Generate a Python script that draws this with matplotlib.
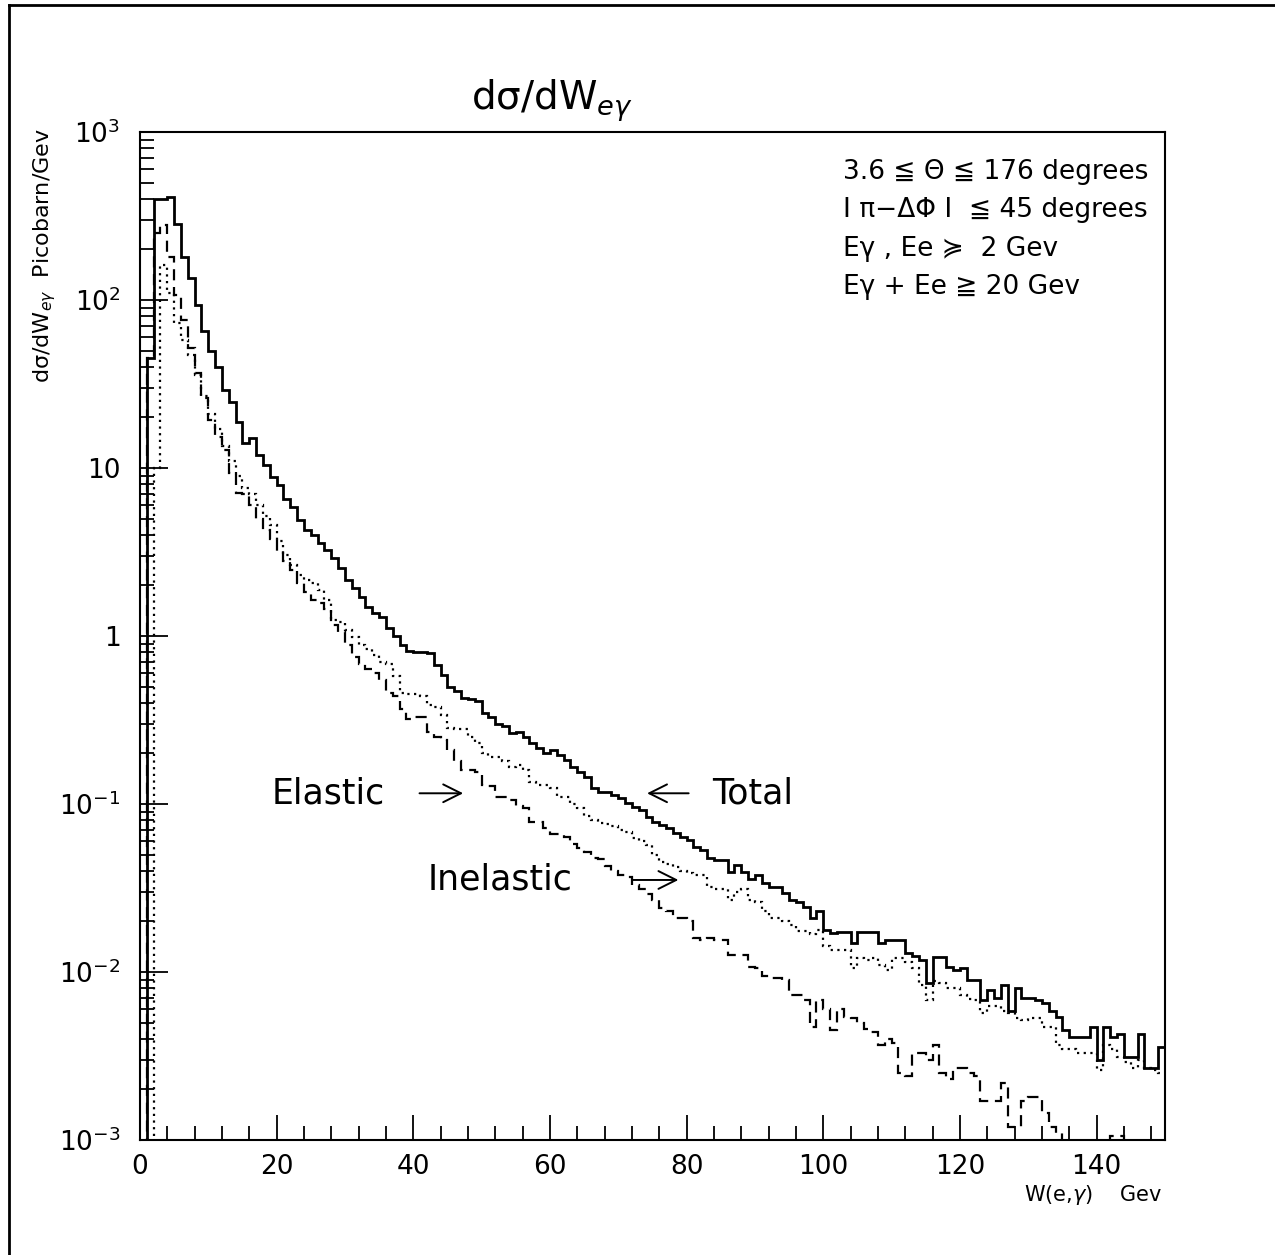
import numpy as np
import matplotlib
matplotlib.use("Agg")
from matplotlib import pyplot as plt
from matplotlib.lines import Line2D
from matplotlib.ticker import FixedLocator, FixedFormatter, MultipleLocator, LogLocator, NullFormatter

plt.rcParams['font.family'] = ['DejaVu Sans']
plt.rcParams['mathtext.fontset'] = 'dejavusans'

# 1 GeV bins from 0 to 150 GeV
bin_edges = np.arange(0, 151, 1)

# Total (solid line), picobarn/GeV per bin
total = [
    0, 45, 400, 400, 410, 285, 180, 135, 93, 65,
    50, 40, 29, 24.7, 18.8, 14.1, 15.1, 11.9, 10.4, 8.8,
    7.9, 6.5, 5.9, 4.9, 4.3, 4.0, 3.6, 3.25, 2.9, 2.55,
    2.15, 1.93, 1.71, 1.49, 1.37, 1.30, 1.12, 1.0, 0.88, 0.82,
    0.80, 0.80, 0.79, 0.67, 0.59, 0.50, 0.47, 0.43, 0.42, 0.41,
    0.35, 0.33, 0.30, 0.29, 0.265, 0.27, 0.25, 0.23, 0.215, 0.20,
    0.21, 0.195, 0.182, 0.165, 0.155, 0.145, 0.124, 0.118, 0.118, 0.113,
    0.108, 0.102, 0.096, 0.092, 0.084, 0.078, 0.075, 0.072, 0.067, 0.064,
    0.061, 0.0555, 0.053, 0.048, 0.0464, 0.0464, 0.0394, 0.0434, 0.0394, 0.036,
    0.038, 0.034, 0.032, 0.032, 0.0295, 0.027, 0.026, 0.0244, 0.021, 0.023,
    0.0178, 0.0171, 0.0173, 0.0173, 0.0149, 0.0173, 0.0173, 0.0173, 0.0149, 0.0155,
    0.0155, 0.0155, 0.0130, 0.0125, 0.0118, 0.0086, 0.0123, 0.0123, 0.0107, 0.0103,
    0.0106, 0.0090, 0.0090, 0.0068, 0.0078, 0.0070, 0.0084, 0.0059, 0.0080, 0.0070,
    0.0070, 0.0068, 0.0065, 0.0059, 0.0054, 0.0045, 0.0041, 0.0041, 0.0041, 0.0047,
    0.0030, 0.0047, 0.0041, 0.0043, 0.0031, 0.0031, 0.0043, 0.0027, 0.0027, 0.0036,
]

# Elastic (dashed line)
elastic = [
    0, 45, 250, 280, 180, 107, 76, 52, 37, 26,
    19.3, 15.3, 12.8, 9.3, 7.1, 7.0, 6.0, 5.0, 4.3, 3.8,
    3.2, 2.8, 2.47, 2.07, 1.83, 1.64, 1.58, 1.45, 1.16, 1.05,
    0.88, 0.75, 0.68, 0.64, 0.60, 0.55, 0.46, 0.44, 0.37, 0.32,
    0.33, 0.33, 0.27, 0.25, 0.24, 0.21, 0.18, 0.16, 0.16, 0.155,
    0.13, 0.128, 0.11, 0.11, 0.105, 0.097, 0.095, 0.078, 0.078, 0.072,
    0.066, 0.066, 0.064, 0.058, 0.055, 0.052, 0.048, 0.047, 0.043, 0.040,
    0.038, 0.037, 0.033, 0.031, 0.029, 0.027, 0.024, 0.023, 0.021, 0.021,
    0.020, 0.016, 0.0155, 0.016, 0.0155, 0.0155, 0.0126, 0.0126, 0.0126, 0.0107,
    0.0105, 0.0095, 0.0092, 0.0092, 0.0090, 0.0073, 0.0073, 0.0068, 0.0047, 0.0068,
    0.0060, 0.0045, 0.0060, 0.0054, 0.0053, 0.0050, 0.0046, 0.0044, 0.0037, 0.0040,
    0.0038, 0.0025, 0.0024, 0.0033, 0.0033, 0.0030, 0.0037, 0.0025, 0.0023, 0.0027,
    0.0027, 0.0025, 0.0024, 0.0017, 0.0017, 0.0017, 0.0022, 0.0012, 0.0012, 0.0017,
    0.0018, 0.0018, 0.00145, 0.0012, 0.0011, 0.0009, 0.0008, 0.0007, 0.0009, 0.0006,
    0.0008, 0.0005, 0.00105, 0.00105, 0.0007, 0.0007, 0.0006, 0.0008, 0.0005, 0.0007,
]

# Inelastic (dotted line)
inelastic = [
    0, 0, 10, 161, 110, 73, 58, 47, 36, 27,
    21, 17, 13.5, 11, 9.0, 7.6, 7.0, 6.0, 5.2, 4.6,
    3.7, 3.03, 2.65, 2.3, 2.15, 2.07, 1.88, 1.64, 1.25, 1.22,
    1.09, 0.99, 0.88, 0.84, 0.77, 0.70, 0.68, 0.58, 0.46, 0.45,
    0.45, 0.44, 0.39, 0.38, 0.34, 0.285, 0.28, 0.28, 0.25, 0.23,
    0.20, 0.19, 0.19, 0.18, 0.165, 0.17, 0.16, 0.135, 0.13, 0.13,
    0.125, 0.11, 0.11, 0.10, 0.095, 0.085, 0.080, 0.077, 0.076, 0.074,
    0.070, 0.068, 0.063, 0.060, 0.057, 0.050, 0.045, 0.044, 0.042, 0.040,
    0.039, 0.038, 0.038, 0.032, 0.031, 0.031, 0.027, 0.030, 0.031, 0.027,
    0.026, 0.023, 0.021, 0.021, 0.020, 0.019, 0.0175, 0.0175, 0.0168, 0.0178,
    0.0143, 0.0135, 0.0135, 0.0135, 0.0105, 0.0121, 0.0118, 0.0121, 0.0110, 0.0103,
    0.0121, 0.0121, 0.0115, 0.0106, 0.0084, 0.0068, 0.0088, 0.0086, 0.0080, 0.0080,
    0.0073, 0.0069, 0.0068, 0.0057, 0.0063, 0.0063, 0.0059, 0.0057, 0.0053, 0.0052,
    0.0053, 0.0053, 0.0047, 0.0047, 0.0037, 0.0035, 0.0035, 0.0033, 0.0033, 0.0033,
    0.0026, 0.0037, 0.0035, 0.0031, 0.0029, 0.0027, 0.0030, 0.0027, 0.0026, 0.0025,
]

ytick_vals = [1e-3, 1e-2, 1e-1, 1, 10, 1e2, 1e3]
ytick_text = [r'$10^{-3}$', r'$10^{-2}$', r'$10^{-1}$', '1', '10', r'$10^{2}$', r'$10^{3}$']
xtick_vals = [0, 20, 40, 60, 80, 100, 120, 140]

cuts = [
    "3.6 \u2266 \u0398 \u2266 176 degrees",
    "I \u03c0\u2212\u0394\u03a6 I  \u2266 45 degrees",
    "E\u03b3 , Ee \u227d  2 Gev",
    "E\u03b3 + Ee \u2267 20 Gev",
]

fig = plt.figure(figsize=(12.75, 12.55), dpi=100)
ax = fig.add_axes([0.1098, 0.0916, 0.8039, 0.8032])

floor = 1e-6
ax.stairs(np.clip(total, floor, None), bin_edges, baseline=None, color='black', lw=2.0)
ax.stairs(np.clip(elastic, floor, None), bin_edges, baseline=None, color='black', lw=1.6,
          linestyle=(0, (5, 3)))
ax.stairs(np.clip(inelastic, floor, None), bin_edges, baseline=None, color='black', lw=1.6,
          linestyle=(0, (1, 2)))

ax.set_yscale('log')
ax.set_xlim(0, 150)
ax.set_ylim(1e-3, 1e3)

ax.yaxis.set_major_locator(FixedLocator(ytick_vals))
ax.yaxis.set_major_formatter(FixedFormatter(ytick_text))
ax.yaxis.set_minor_locator(LogLocator(base=10, subs=np.arange(2, 10), numticks=20))
ax.yaxis.set_minor_formatter(NullFormatter())
ax.xaxis.set_major_locator(FixedLocator(xtick_vals))
ax.xaxis.set_minor_locator(MultipleLocator(4))

ax.tick_params(which='both', direction='in', top=False, right=False, width=1.3, labelsize=19)
ax.tick_params(axis='y', which='major', length=20, pad=14)
ax.tick_params(axis='y', which='minor', length=10)
ax.tick_params(axis='x', which='major', length=18, pad=10)
ax.tick_params(axis='x', which='minor', length=10)
for s in ax.spines.values():
    s.set_linewidth(1.5)

# title and axis labels
fig.text(552 / 1275, 1 - 110 / 1255, 'd\u03c3/dW$_{e\\gamma}$', fontsize=28,
         ha='center', va='baseline')
fig.text(45 / 1275, 1 - 128 / 1255, 'd\u03c3/dW$_{e\\gamma}$  Picobarn/Gev', fontsize=16,
         rotation=90, ha='center', va='top')
fig.text(1162 / 1275, 1 - 1195 / 1255, r'W(e,$\gamma$)    Gev', fontsize=15,
         ha='right', va='center')

# cuts
for k, line in enumerate(cuts):
    fig.text(843 / 1275, 1 - (172 + 38.3 * k) / 1255, line, fontsize=19,
             ha='left', va='center')

# curve labels with arrows
arrow = dict(arrowstyle='->', lw=1.4, color='black', mutation_scale=32)
ax.text(0.239, 0.344, 'Elastic', transform=ax.transAxes, fontsize=25, ha='right', va='center')
ax.annotate('', xy=(0.318, 0.344), xytext=(0.27, 0.344), xycoords='axes fraction',
            textcoords='axes fraction', arrowprops=arrow)
ax.text(0.558, 0.344, 'Total', transform=ax.transAxes, fontsize=25, ha='left', va='center')
ax.annotate('', xy=(0.492, 0.344), xytext=(0.538, 0.344), xycoords='axes fraction',
            textcoords='axes fraction', arrowprops=arrow)
ax.text(0.281, 0.258, 'Inelastic', transform=ax.transAxes, fontsize=25, ha='left', va='center')
ax.annotate('', xy=(0.528, 0.258), xytext=(0.478, 0.258), xycoords='axes fraction',
            textcoords='axes fraction', arrowprops=arrow)

# page frame (left and top edges)
fig.add_artist(Line2D([9 / 1275, 9 / 1275], [0, 1 - 5 / 1255], transform=fig.transFigure,
                      color='black', lw=2))
fig.add_artist(Line2D([9 / 1275, 1], [1 - 5 / 1255, 1 - 5 / 1255], transform=fig.transFigure,
                      color='black', lw=2))

fig.savefig('out.png', dpi=100)
